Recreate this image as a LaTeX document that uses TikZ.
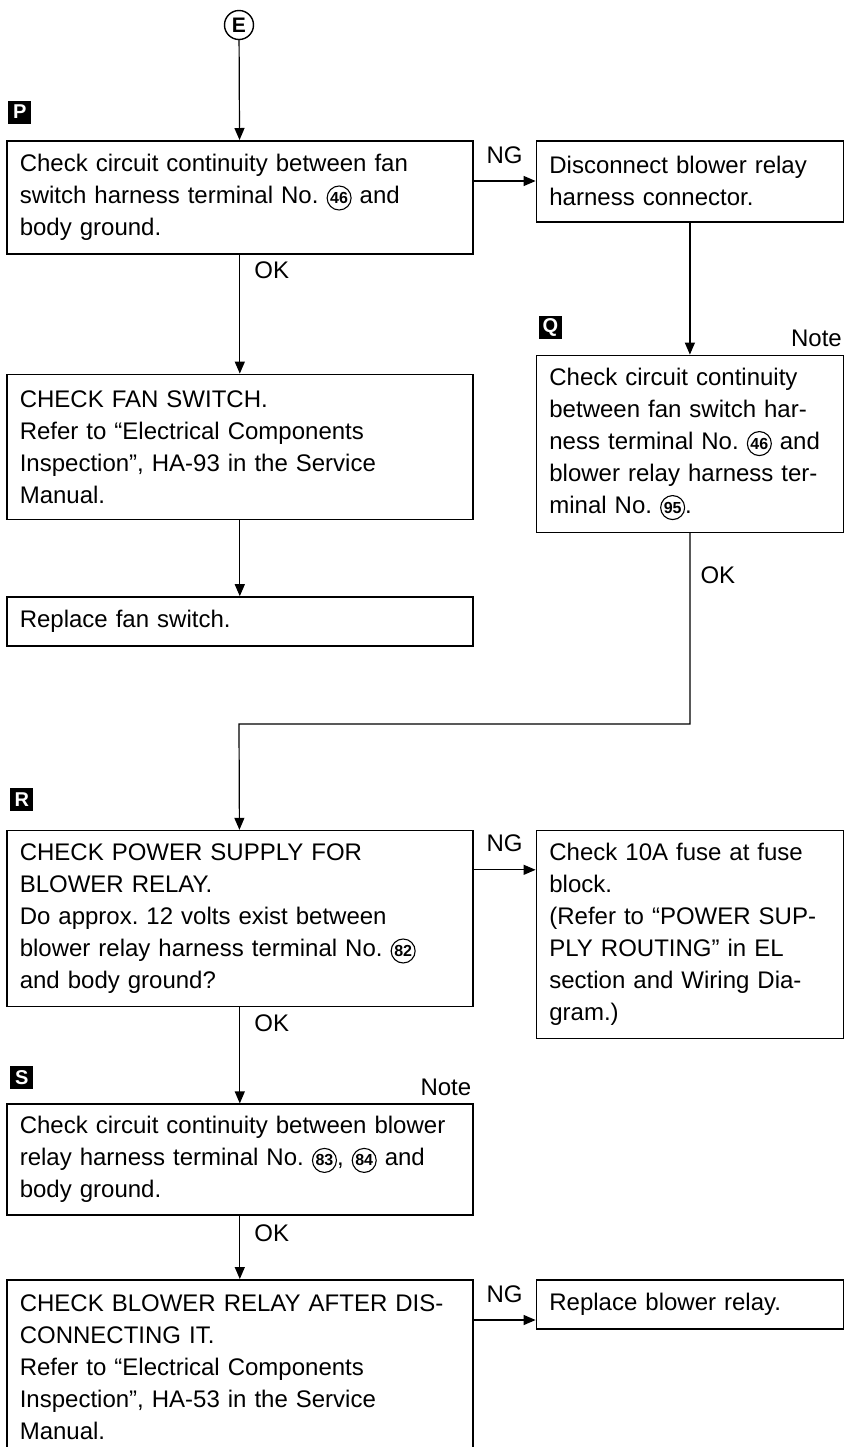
\documentclass[tikz,border=0pt]{standalone}
\usepackage{fontspec}
\setmainfont{Liberation Sans}
\usetikzlibrary{positioning,arrows.meta}
% circled terminal number
\newcommand\tnum[1]{\tikz[baseline=(t.base)]\node[draw,circle,line width=.55pt,inner sep=0pt,minimum size=12pt,text width=,align=center,font=\bfseries\fontsize{8}{8}\selectfont] (t) {#1};}

\begin{document}
\frenchspacing
\begin{tikzpicture}[x=.5pt,y=-.5pt,
 box/.style={draw,line width=.8pt,align=left,inner xsep=6.5pt,inner ysep=3pt,font=\fontsize{12}{16}\selectfont},
 wide/.style={box,text width=220pt},
 narrow/.style={box,text width=140.5pt},
 tag/.style={fill=black,text=white,font=\bfseries\fontsize{10}{10}\selectfont,minimum size=11.5pt,inner sep=0pt},
 lab/.style={font=\fontsize{12}{14}\selectfont,inner sep=1pt},
 arr/.style={-{Triangle[length=6pt,width=5pt]},line width=.6pt}]
\useasboundingbox (0,0) rectangle (845,1447);
\node[circle,draw,line width=.7pt,minimum size=14.5pt,inner sep=0pt,font=\bfseries\fontsize{10.5}{10.5}\selectfont] (e) at (239,25) {E};
\node[wide,minimum height=56.5pt,anchor=north west] (p) at (6,140) {Check circuit continuity between fan\\switch harness terminal No. \tnum{46} and\\body ground.};
\node[narrow,minimum height=40.5pt,right=31pt of p.north east,anchor=north west] (dis) {Disconnect blower relay\\harness connector.};
\node[wide,minimum height=72.5pt,below=59.5pt of p] (fan) {CHECK FAN SWITCH.\\Refer to “Electrical Components\\Inspection”, HA-93 in the Service\\Manual.};
\node[wide,minimum height=24.5pt,below=38pt of fan] (repfan) {Replace fan switch.};
\node[narrow,minimum height=88.5pt,below=66pt of dis] (q) {Check circuit continuity\\between fan switch har-\\ness terminal No. \tnum{46} and\\blower relay harness ter-\\minal No. \tnum{95}.};
\node[wide,minimum height=88pt,below=91.5pt of repfan] (r) {CHECK POWER SUPPLY FOR\\BLOWER RELAY.\\Do approx. 12 volts exist between\\blower relay harness terminal No. \tnum{82}\\and body ground?};
\node[narrow,minimum height=104pt,right=31pt of r.north east,anchor=north west] (fuse) {Check 10A fuse at fuse\\block.\\(Refer to “POWER SUP-\\PLY ROUTING” in EL\\section and Wiring Dia-\\gram.)};
\node[wide,minimum height=55.5pt,below=48pt of r] (s) {Check circuit continuity between blower\\relay harness terminal No. \tnum{83}, \tnum{84} and\\body ground.};
\node[wide,minimum height=87pt,below=31.5pt of s] (relay) {CHECK BLOWER RELAY AFTER DIS-\\CONNECTING IT.\\Refer to “Electrical Components\\Inspection”, HA-53 in the Service\\Manual.};
\node[narrow,minimum height=24.5pt,right=31pt of relay.north east,anchor=north west] (relrep) {Replace blower relay.};
% step tags and notes
\node[tag,above right=8pt and 1pt of p.north west] (tp) {P};
\node[tag,above right=7.5pt and 1.5pt of q.north west] (tq) {Q};
\node[tag,above right=9pt and 2pt of r.north west] (tr) {R};
\node[tag,above right=7pt and 2pt of s.north west] (ts) {S};
\node[lab,above left=2.5pt and 0pt of q.north east] (nq) {Note};
\node[lab,above left=2.5pt and 0pt of s.north east] (ns) {Note};
% connectors
\coordinate[below=20.5pt of p.north east] (ng1);
\coordinate[below=20pt of r.north east] (ng2);
\coordinate[below=20.5pt of relay.north east] (ng3);
\coordinate (turn) at (239,724);
\draw[arr] (e)--(p);
\draw[arr] (ng1) -- node[lab,above=7.5pt] {NG} (ng1 -| dis.west);
\draw[arr] (p) -- node[lab,right=6pt,pos=.13] {OK} (fan);
\draw[arr] (fan)--(repfan);\draw[arr] (dis)--(q);
\draw[arr] (q) |- node[lab,right=4pt,pos=.11] {OK} (turn) -- (r);
\draw[arr] (ng2) -- node[lab,above=7.5pt] {NG} (ng2 -| fuse.west);
\draw[arr] (r) -- node[lab,right=6pt,pos=.17] {OK} (s);
\draw[arr] (s) -- node[lab,right=6pt,pos=.27] {OK} (relay);
\draw[arr] (ng3) -- node[lab,above=7.5pt] {NG} (ng3 -| relrep.west);
\end{tikzpicture}
\end{document}
